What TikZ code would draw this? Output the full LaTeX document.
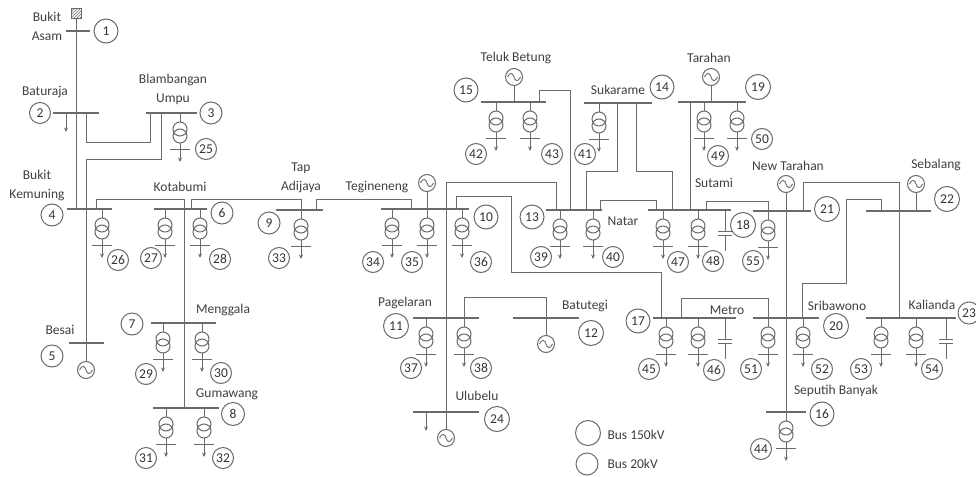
\documentclass[tikz,border=0pt]{standalone}
\usepackage{fontspec}
\setmainfont{Carlito}
\usetikzlibrary{arrows.meta,patterns}

\begin{document}
\begin{tikzpicture}[x=1pt,y=-1pt,line width=1pt,
                    ink/.style={draw=black!58},
                    busbar/.style={fill=black!58,inner sep=0pt,minimum height=1.1pt},
                    link/.style={ink},
                    load/.style={ink,line width=0.8pt,-{Stealth[length=4.5pt,width=4pt]}},
                    num/.style={ink,circle,inner sep=0pt,text=black!80,font=\fontsize{13.5}{15}\selectfont},
                    place/.style={align=center,inner sep=0pt,text=black!75,font=\fontsize{13.5}{19}\selectfont},
                    gen/.style={ink,circle,inner sep=0pt,minimum size=17pt},
                    source/.style={ink,inner sep=0pt,minimum size=10pt,pattern=north east lines,pattern color=black!58}]
    \useasboundingbox (0,0) rectangle (976,476);
    \fill[white] (0,0) rectangle (976,476);

    \foreach \b/\xa/\xb/\y in {1/66/90/31,2/53/99/113,3/146/197/113,4/67/112/209,5/69/104/343,
                               6/154/207/209,7/151/216/323,8/153/219/408,9/276/323/210,10/381/469/209,
                               11/413/479/318,12/513/579/318,13/546/602/210,14/584/652/103,15/481/546/102,
                               16/766/806/412,17/653/736/318,18/648/731/210,19/678/746/102,20/753/819/318,
                               21/753/811/211,22/866/931/211,23/866/956/318,24/413/479/412}
        \node[busbar,minimum width={(\xb-\xa)*1pt}] (bus \b) at ({(\xa+\xb)/2},\y) {};

    \node[source] (source) at (76,14) {};
    \foreach \g/\x/\y in {5/86/370,10/427/183,12/546/344,15/514/77,19/711/77,21/786/184,22/916/184,24/446/438} {
        \node[gen] (gen \g) at (\x,\y) {};
        \draw[ink,line width=0.9pt,shift={(\x,\y)}] (-6.5,0) .. controls (-4,-5.5) and (-1,-4) .. (0,0) .. controls (1,4) and (4,5.5) .. (6.5,0);
    }

    \draw[link] (source) -- (source |- bus 4);
    \draw[link] (86,0 |- bus 2) |- (150,142) -- (150,0 |- bus 3);
    \draw[link] (161,0 |- bus 3) |- (86,159) -- (gen 5);
    \draw[link] (96,0 |- bus 4) |- (184,199) -- (184,0 |- bus 8);
    \draw[link] (191,0 |- bus 6) |- (301,199) -- (301,0 |- bus 9);
    \draw[link] (316,0 |- bus 9) |- (411,199) -- (411,0 |- bus 10);
    \draw[link] (gen 10) -- (gen 10 |- bus 10);
    \draw[link] (556,0 |- bus 13) |- (446,182) -- (gen 24);
    \draw[link] (456,0 |- bus 10) |- (511,196) |- (661,272) -- (661,0 |- bus 17);
    \draw[link] (gen 15) -- (gen 15 |- bus 15);
    \draw[link] (539,0 |- bus 15) |- (570,91) -- (570,0 |- bus 13);
    \draw[link] (617,0 |- bus 14) |- (586,171) -- (586,0 |- bus 13);
    \draw[link] (636,0 |- bus 14) |- (672,171) -- (672,0 |- bus 18);
    \draw[link] (600,0 |- bus 13) |- (656,200) -- (656,0 |- bus 18);
    \draw[link] (gen 19) -- (gen 19 |- bus 19);
    \draw[link] (690,0 |- bus 19) -- (690,0 |- bus 18);
    \draw[link] (706,0 |- bus 18) |- (768,201) -- (768,0 |- bus 21);
    \draw[link] (gen 21) -- (786,0 |- bus 16) -- (786,421);
    \draw[link] (803,0 |- bus 21) |- (899,182) -- (899,0 |- bus 23);
    \draw[link] (gen 22) -- (gen 22 |- bus 22);
    \draw[link] (881,0 |- bus 22) |- (846,199) |- (802,283) -- (802,0 |- bus 20);
    \draw[link] (464,0 |- bus 11) |- (546,297) -- (gen 12);
    \draw[link] (681,0 |- bus 17) |- (768,298) -- (768,0 |- bus 20);

    \foreach \b/\x in {3/180,4/102,6/165,6/200,7/163,7/202,8/166,8/204,9/301,10/392,10/427,10/462,
                       11/426,11/464,13/560,13/593,14/599,15/496,15/530,16/786,17/666,17/698,
                       18/663,18/698,19/704,19/737,20/768,20/803,21/768,23/881,23/916} {
        \draw[ink] (\x,0 |- bus \b) -- ++(0,9);
        \draw[ink] (\x,0 |- bus \b) ++(0,16) circle[radius=7pt] ++(0,7) circle[radius=7pt];
        \draw[ink] (\x,0 |- bus \b) ++(-10,36) -- ++(20,0);
        \draw[load] (\x,0 |- bus \b) ++(0,30) -- ++(0,19);
    }
    \foreach \b/\x in {2/66,24/426}
        \draw[load] (\x,0 |- bus \b) -- ++(0,19);
    \foreach \b/\x in {17/725,18/725,23/946} {
        \draw[ink] (\x,0 |- bus \b) -- ++(0,21) ++(-7,0) -- ++(14,0);
        \draw[ink] (\x,0 |- bus \b) ++(-7,25) -- ++(14,0) ++(-7,0) -- ++(0,16);
    }

    \foreach \n/\x/\y/\d in {1/106/31/24,2/40/113/21,3/211/113/22,4/52/215/22,5/52/356/22,6/222/213/22,
                             7/132/324/22,8/233/414/23,9/269/223/22,10/486/217/24,11/396/326/25,12/591/333/25,
                             13/532/217/24,14/662/87/24,15/466/90/24,16/822/414/24,17/638/321/24,18/743/225/25,
                             19/758/87/25,20/836/326/25,21/827/209/25,22/947/199/25,23/969/313/22,24/497/419/25,
                             25/206/149/21,26/118/260/21,27/151/258/21,28/220/259/21,29/146/374/21,30/221/373/21,
                             31/146/458/21,32/223/458/21,33/279/258/21,34/373/262/21,35/412/262/21,36/481/262/21,
                             37/411/368/21,38/481/368/21,39/541/257/21,40/613/257/21,41/585/154/21,42/476/154/21,
                             43/552/154/21,44/761/449/21,45/649/369/21,46/714/370/21,47/678/262/21,48/713/261/21,
                             49/718/156/21,50/762/139/21,51/751/369/21,52/822/369/21,53/861/369/21,54/932/369/21,
                             55/753/261/21}
        \node[num,minimum size=\d pt] (num \n) at (\x,\y) {\n};

    \node[place] (bukit asam) at (47,26) {Bukit\\Asam};
    \node[place] (baturaja) at (45,92) {Baturaja};
    \node[place] (blambangan) at (173,89.5) {Blambangan\\Umpu};
    \node[place] (bukit kemuning) at (37,185.5) {Bukit\\Kemuning};
    \node[place] (kotabumi) at (180,187) {Kotabumi};
    \node[place] (tap adijaya) at (301,177.5) {Tap\\Adijaya};
    \node[place] (tegineneng) at (377,187) {Tegineneng};
    \node[place] (teluk betung) at (516,58) {Teluk Betung};
    \node[place] (sukarame) at (618,90) {Sukarame};
    \node[place] (tarahan) at (709,58) {Tarahan};
    \node[place] (natar) at (623,221) {Natar};
    \node[place] (sutami) at (714,183) {Sutami};
    \node[place] (new tarahan) at (788,166) {New Tarahan};
    \node[place] (sebalang) at (936,165) {Sebalang};
    \node[place] (besai) at (60,330) {Besai};
    \node[place] (menggala) at (223,310) {Menggala};
    \node[place] (gumawang) at (227,394) {Gumawang};
    \node[place] (pagelaran) at (405,303) {Pagelaran};
    \node[place] (batutegi) at (585,306) {Batutegi};
    \node[place] (ulubelu) at (477,396) {Ulubelu};
    \node[place] (metro) at (727,310) {Metro};
    \node[place] (sribawono) at (837,306) {Sribawono};
    \node[place] (kalianda) at (932,305) {Kalianda};
    \node[place] (seputih banyak) at (836,391) {Seputih Banyak};

    \node[num,minimum size=25pt] (legend high) at (588,433) {};
    \node[num,minimum size=22pt] (legend low) at (587,464) {};
    \node[place,anchor=west] (legend high text) at (607,435) {Bus 150kV};
    \node[place,anchor=west] (legend low text) at (607,464) {Bus 20kV};
\end{tikzpicture}
\end{document}
